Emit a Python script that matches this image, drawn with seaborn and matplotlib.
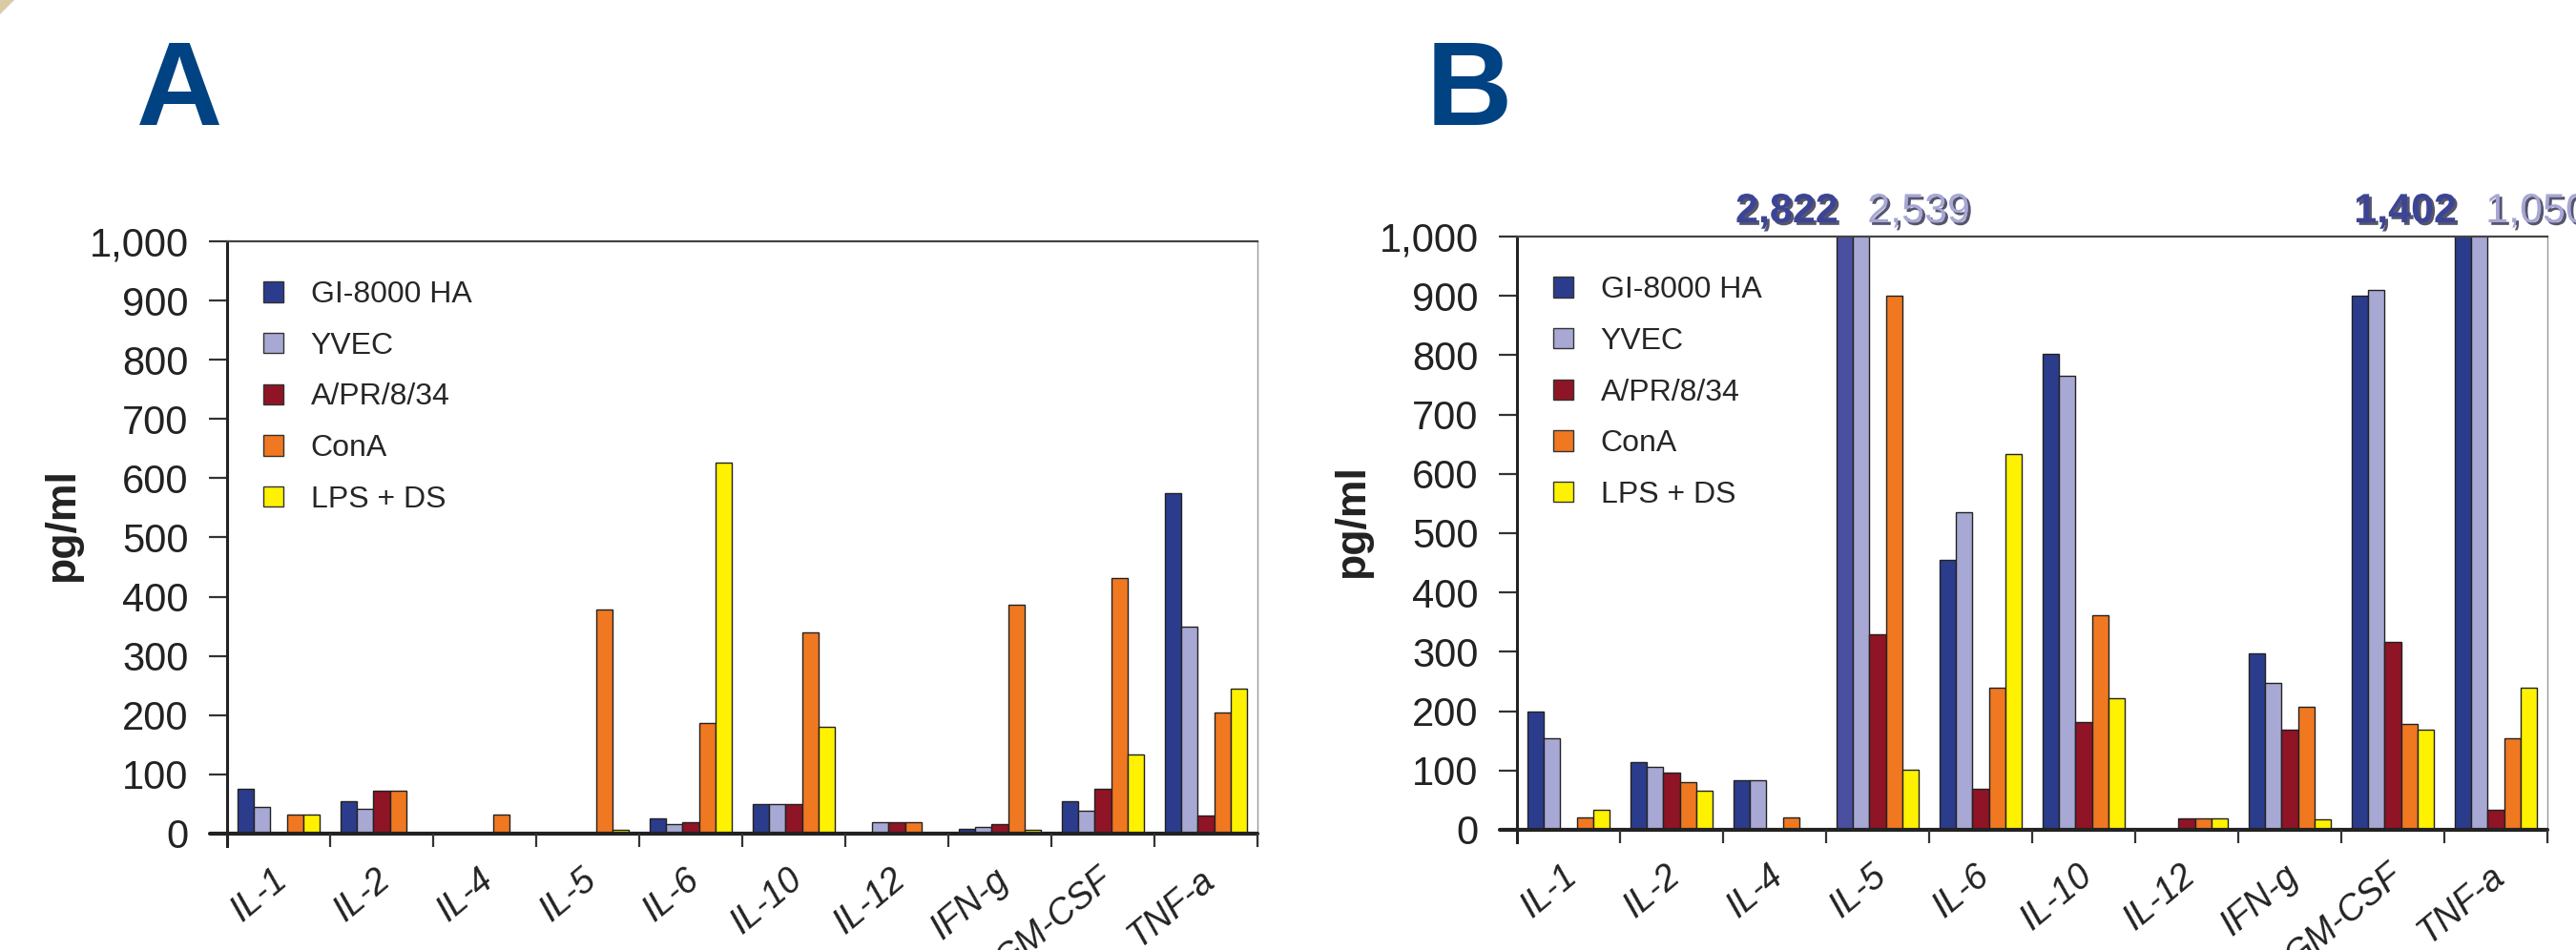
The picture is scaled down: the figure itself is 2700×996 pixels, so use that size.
import numpy as np
import pandas as pd
import matplotlib
matplotlib.use("Agg")
import matplotlib.pyplot as plt
import matplotlib.patches as mpatches
import matplotlib.patheffects as pe
import matplotlib.ticker as ticker
import matplotlib.transforms as mtransforms
import seaborn as sns

cytokines = ["IL-1", "IL-2", "IL-4", "IL-5", "IL-6", "IL-10", "IL-12", "IFN-g", "GM-CSF", "TNF-a"]
groups = ["GI-8000 HA", "YVEC", "A/PR/8/34", "ConA", "LPS + DS"]
colours = ["#2c3c8c", "#a8a8d4", "#8e1426", "#f07821", "#fff200"]

# panel A (pg/ml)
a_gi = [76, 55, 0, 0, 25, 50, 0, 8, 55, 575]
a_yvec = [45, 42, 0, 0, 16, 50, 20, 12, 38, 349]
a_apr = [0, 73, 0, 0, 20, 50, 20, 16, 76, 30]
a_cona = [32, 73, 32, 379, 187, 340, 20, 387, 432, 204]
a_lps = [32, 0, 0, 7, 627, 181, 0, 7, 134, 244]

# panel B (pg/ml)
b_gi = [200, 114, 83, 2822, 455, 802, 0, 298, 901, 1402]
b_yvec = [155, 106, 83, 2539, 535, 765, 0, 248, 910, 1050]
b_apr = [0, 96, 0, 329, 69, 182, 20, 168, 316, 34]
b_cona = [21, 80, 21, 900, 239, 361, 20, 208, 178, 155]
b_lps = [33, 66, 0, 101, 633, 222, 20, 17, 169, 239]

Y_MAX = 1000
Y_MIN = -21


def long_df(series):
    rows = []
    for g, vals in zip(groups, series):
        for c, v in zip(cytokines, vals):
            rows.append({"cytokine": c, "group": g, "value": v})
    return pd.DataFrame(rows)


sns.set_style("white")
plt.rcParams["font.family"] = ["Liberation Sans", "DejaVu Sans"]
NARROW = ["Liberation Sans Narrow", "Liberation Sans", "DejaVu Sans"]

fig = plt.figure(figsize=(27, 9.96), dpi=100)
ax_a = fig.add_axes([238 / 2700, 1 - 887 / 996, 1080 / 2700, 634 / 996])
ax_b = fig.add_axes([1590 / 2700, 1 - 883 / 996, 1080 / 2700, 635 / 996])


def draw_panel(ax, series, letter):
    df = long_df(series)
    sns.barplot(
        data=df,
        x="cytokine",
        y="value",
        hue="group",
        order=cytokines,
        hue_order=groups,
        palette=colours,
        saturation=1,
        width=0.8,
        gap=0,
        edgecolor="#222222",
        linewidth=1.0,
        ax=ax,
        legend=False,
    )
    ax.set_ylim(Y_MIN, Y_MAX)
    ax.set_xlim(-0.5, len(cytokines) - 0.5)
    ax.set_yticks(np.arange(0, 1001, 100))
    ax.yaxis.set_major_formatter(ticker.FuncFormatter(lambda v, p: "{:,.0f}".format(v)))
    ax.tick_params(axis="y", direction="out", length=14, width=1.6, color="#333333",
                   labelsize=30, labelcolor="#222222", pad=15, left=True)
    ax.tick_params(axis="x", length=0, pad=22)
    ax.set_xticks(range(len(cytokines)))
    ax.set_xticklabels(cytokines, rotation=40, fontsize=27, style="italic",
                       color="#222222", ha="right", va="center", rotation_mode="anchor")
    shift = mtransforms.ScaledTranslation(0.05, 0, fig.dpi_scale_trans)
    for lab in ax.get_xticklabels():
        lab.set_transform(lab.get_transform() + shift)
    ax.set_xlabel("")
    ax.set_ylabel("pg/ml", fontsize=32, fontweight="bold", color="#222222")
    ax.yaxis.set_label_coords(-0.141, 0.53)

    ax.spines["bottom"].set_visible(False)
    ax.spines["left"].set_color("#222222")
    ax.spines["left"].set_linewidth(2.2)
    ax.spines["top"].set_color("#444444")
    ax.spines["top"].set_linewidth(1.6)
    ax.spines["right"].set_color("#999999")
    ax.spines["right"].set_linewidth(1.0)

    # thick baseline and category separators
    ax.axhline(0, color="#222222", linewidth=3.0, zorder=5, clip_on=False)
    ax.plot([-0.5 - 0.17, -0.5], [0, 0], color="#222222", linewidth=3.0, clip_on=False)
    seps = np.arange(len(cytokines)) + 0.5
    ax.vlines(seps, Y_MIN - 2, 0, color="#333333", linewidth=1.6, clip_on=False, zorder=6)

    handles = [
        mpatches.Patch(facecolor=c, edgecolor="#333333", linewidth=1.0, label=g)
        for g, c in zip(groups, colours)
    ]
    ax.legend(
        handles=handles,
        loc="upper left",
        bbox_to_anchor=(0.035, 0.935),
        frameon=False,
        prop={"family": NARROW, "size": 23},
        handlelength=0.66,
        handleheight=0.66,
        handletextpad=0.9,
        labelspacing=0.74,
        borderpad=0,
        borderaxespad=0,
    )
    fig.text(ax.get_position().x0 - 50 / 2700, 1 - 99 / 996, letter,
             fontsize=90, fontweight="bold", color="#004282", ha="center", va="center")


draw_panel(ax_a, [a_gi, a_yvec, a_apr, a_cona, a_lps], "A")
draw_panel(ax_b, [b_gi, b_yvec, b_apr, b_cona, b_lps], "B")

# the IL-5 GI-8000 HA bar in B is printed in a lighter blue
ax_b.containers[0][cytokines.index("IL-5")].set_facecolor("#4a4f9f")

# values of clipped bars above panel B
shadow = [pe.SimplePatchShadow(offset=(2, -2), shadow_rgbFace="#1c1c3c", alpha=0.75), pe.Normal()]
for j, (gv, yv) in enumerate(zip(b_gi, b_yvec)):
    if gv > Y_MAX:
        bar = ax_b.containers[0][j]
        ax_b.text(bar.get_x() + 0.02, 1024, "{:,}".format(gv), ha="right", va="baseline",
                  fontsize=31, fontweight="bold", color="#3c4496", clip_on=False,
                  path_effects=shadow)
    if yv > Y_MAX:
        bar = ax_b.containers[1][j]
        ax_b.text(bar.get_x() + bar.get_width() - 0.02, 1024, "{:,}".format(yv), ha="left",
                  va="baseline", fontsize=31, color="#a6a7d4", clip_on=False,
                  path_effects=shadow)

# small corner mark in the top-left
fig.patches.append(mpatches.Polygon([(0, 1), (15 / 2700, 1), (0, 1 - 15 / 996)],
                                    closed=True, transform=fig.transFigure,
                                    facecolor="#d8cba6", edgecolor="none"))

fig.savefig("out.png", dpi=100)
